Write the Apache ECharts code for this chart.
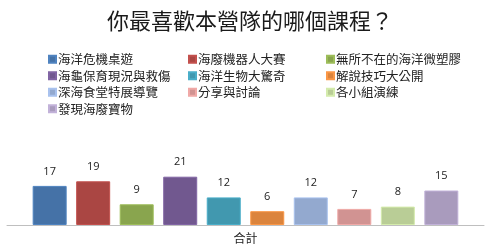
<!DOCTYPE html>
<html><head><meta charset="utf-8">
<script src="https://cdn.jsdelivr.net/npm/echarts@6/dist/echarts.min.js"></script>
<style>html,body{margin:0;padding:0;background:#fff}#c{width:500px;height:250px}</style>
</head><body><div id="c"></div>
<script>
const title = '你最喜歡本營隊的哪個課程？';
const categories = ['合計'];
const seriesNames = ['海洋危機桌遊','海廢機器人大賽','無所不在的海洋微塑膠','海龜保育現況與救傷','海洋生物大驚奇','解說技巧大公開','深海食堂特展導覽','分享與討論','各小組演練','發現海廢寶物'];
const seriesValues = [17,19,9,21,12,6,12,7,8,15];
const colors = ['#4572a7','#aa4643','#89a54e','#71588f','#4198af','#db843d','#93a9cf','#d19392','#b9cd96','#a99bbd'];
const font = '"Noto Sans CJK TC", sans-serif';

const chart = echarts.init(document.getElementById('c'), null, {renderer:'canvas'});
const legendCols = [[0,3,6,9],[1,4,7],[2,5,8]];
const legendLeft = [43,183,321];
const legends = legendCols.map((idx,i)=>({
  orient:'vertical', left: legendLeft[i], top: 48,
  itemWidth: 7, itemHeight: 7, itemGap: 4, icon:'rect',
  data: idx.map(k=>seriesNames[k]),
  selectedMode:false,
  textStyle:{fontFamily:font, fontSize:12.5, color:'#222', padding:[0,0,0,-3]}
}));
chart.setOption({
  animation:false,
  color: colors,
  title:{text:title, left:'center', top:5, textStyle:{fontFamily:font, fontSize:22, fontWeight:'normal', color:'#1a1a1a'}},
  legend: legends,
  grid:{left:7, right:16, top:225-2.3*25, bottom:25},
  xAxis:{type:'category', data:categories,
    axisLine:{lineStyle:{color:'#bfbfbf', width:1}}, axisTick:{show:false},
    axisLabel:{fontFamily:font, fontSize:12, color:'#222', margin:7}},
  yAxis:{type:'value', min:0, max:25, show:false, splitLine:{show:false}},
  series: seriesNames.map((n,i)=>({
    name:n, type:'bar', data:[seriesValues[i]], barWidth:34, barGap:'28%',
    itemStyle:{color:colors[i], borderColor:echarts.color.lift(colors[i],-0.15), borderWidth:1},
    label:{show:true, position:'top', distance:9, fontFamily:'"Open Sans", sans-serif', fontSize:11, color:'#222'}
  }))
});
</script></body></html>
